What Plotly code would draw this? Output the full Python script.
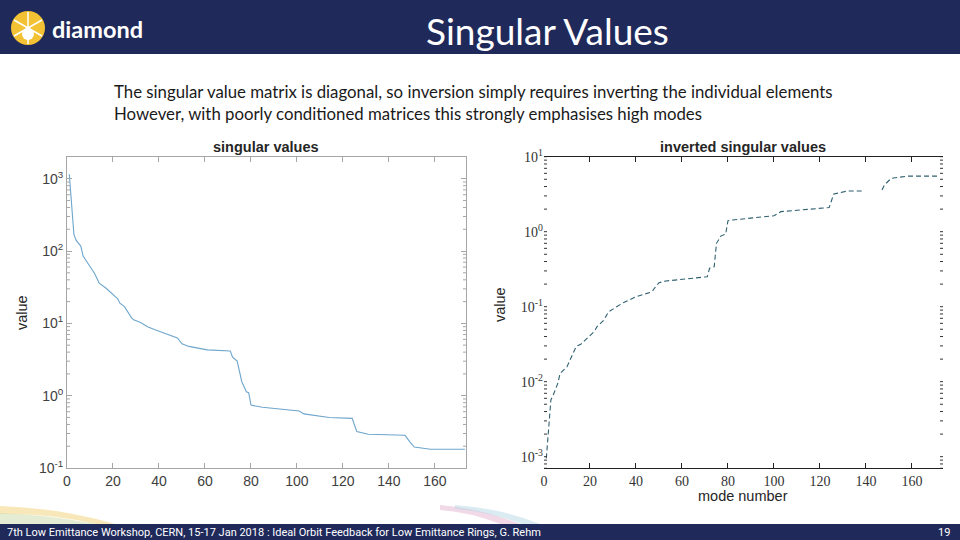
import plotly.graph_objects as go

# ---------------- data ----------------
sv_modes = [1, 2, 3, 4, 5, 6, 7, 9, 12, 14, 17, 21, 22, 23, 25, 28, 29, 32, 35, 38,
            45, 48, 50, 53, 61, 71, 72, 74, 76, 78, 79, 80, 85, 95, 101, 103, 114,
            124, 126, 131, 147, 149, 151, 158, 173]
sv_values = [1150, 380, 170, 140, 128, 117, 85, 68, 49, 36, 30.6, 23.4, 22, 19, 17,
             12, 11.2, 10.3, 9.0, 8.2, 6.9, 6.3, 5.2, 4.8, 4.3, 4.15, 3.4, 3.0, 1.56,
             1.13, 1.1, 0.74, 0.69, 0.635, 0.615, 0.56, 0.50, 0.485, 0.32, 0.293,
             0.283, 0.232, 0.195, 0.182, 0.182]

inv_modes = [1, 2, 3, 4, 6, 7, 10, 14, 16, 22, 23, 26, 28, 34, 40, 47, 48, 50, 53,
             71, 72, 74, 75, 77, 79, 80, 82, 92, 100, 103, 113, 123, 124, 126, 132,
             139, None, 147, 148, 151, 158, 172]
inv_values = [0.00095, 0.0025, 0.0057, 0.0066, 0.0095, 0.0129, 0.0158, 0.0295,
              0.0316, 0.047, 0.054, 0.066, 0.085, 0.111, 0.136, 0.158, 0.176, 0.209,
              0.22, 0.251, 0.325, 0.34, 0.70, 0.88, 0.93, 1.40, 1.43, 1.54, 1.63,
              1.85, 1.95, 2.09, 2.1, 3.18, 3.49, 3.49, None, 3.6, 4.2, 5.15, 5.5, 5.5]

x_ticks = [0, 20, 40, 60, 80, 100, 120, 140, 160]
left_yticks = [0.1, 1, 10, 100, 1000]
left_ytext = ["10<sup>-1</sup>", "10<sup>0</sup>", "10<sup>1</sup>", "10<sup>2</sup>", "10<sup>3</sup>"]
right_yticks = [0.001, 0.01, 0.1, 1, 10]
right_ytext = ["10<sup>-3</sup>", "10<sup>-2</sup>", "10<sup>-1</sup>", "10<sup>0</sup>", "10<sup>1</sup>"]

title_text = "Singular Values"
body_lines = ["The singular value matrix is diagonal, so inversion simply requires inverting the individual elements",
              "However, with poorly conditioned matrices this strongly emphasises high modes"]
footer_text = "7th Low Emittance Workshop, CERN, 15-17 Jan 2018 : Ideal Orbit Feedback for Low Emittance Rings, G. Rehm"
page_no = "19"

W, H = 960, 540
NAVY = "#1f2a5b"


def px(x):
    return x / W


def py(y):
    return 1 - y / H


fig = go.Figure()
fig.add_trace(go.Scatter(x=sv_modes, y=sv_values, mode="lines",
                         line=dict(color="#6ea6cc", width=1.1),
                         xaxis="x", yaxis="y", showlegend=False))
fig.add_trace(go.Scatter(x=inv_modes, y=inv_values, mode="lines",
                         line=dict(color="#2e6070", width=1.1, dash="5px,3px"),
                         connectgaps=False,
                         xaxis="x2", yaxis="y2", showlegend=False))

sans = "Liberation Sans"
serif = "Liberation Serif"
gray_line = "#a6a6a6"
tick_col = "#404040"

fig.update_layout(
    template="none",
    width=W, height=H, margin=dict(l=0, r=0, t=0, b=0, pad=0), autosize=False,
    paper_bgcolor="white", plot_bgcolor="white",
    xaxis=dict(domain=[px(67), px(466)], anchor="y", range=[0, 173.5],
               tickvals=x_ticks, ticks="inside", ticklen=5, tickcolor=gray_line,
               showline=True, linecolor=gray_line, linewidth=1, mirror="ticks",
               showgrid=False, zeroline=False, automargin=False,
               tickfont=dict(family=sans, size=14, color=tick_col)),
    yaxis=dict(domain=[py(468), py(157)], anchor="x", type="log", range=[-1, 3.3],
               tickvals=left_yticks, ticktext=left_ytext, ticks="inside", ticklen=5,
               tickcolor=gray_line, showline=True, linecolor=gray_line, linewidth=1,
               mirror="ticks", showgrid=False, zeroline=False, automargin=False,
               tickfont=dict(family=sans, size=14, color=tick_col)),
    xaxis2=dict(domain=[px(544), px(943)], anchor="y2", range=[0, 173.5],
                tickvals=x_ticks, ticks="inside", ticklen=5, tickcolor="#222222",
                showline=True, linecolor="#222222", linewidth=1.2, mirror="ticks",
                showgrid=False, zeroline=False, automargin=False,
                tickfont=dict(family=serif, size=14, color="#333333")),
    yaxis2=dict(domain=[py(468.3), py(156.7)], anchor="x2", type="log",
                range=[-3.155, 1], tickvals=right_yticks, ticktext=right_ytext,
                ticks="", showline=False, mirror=False, automargin=False,
                showgrid=False, zeroline=False,
                tickfont=dict(family=serif, size=14, color="#333333")),
)

# minor log ticks (both charts, both sides)
minor_left = [m * 10 ** e for e in range(-1, 4) for m in range(2, 10)]
for v in minor_left:
    if 0.1 < v <= 10 ** 3.3:
        for x0, x1 in [(67, 70), (463, 466)]:
            fig.add_shape(type="line", xref="paper", yref="y",
                          x0=px(x0), x1=px(x1), y0=v, y1=v,
                          line=dict(color=gray_line, width=1))
minor_right = [m * 10 ** e for e in range(-4, 2) for m in range(1, 10)]
lo, hi = 10 ** -3.155, 10
for v in minor_right:
    if lo < v <= hi:
        for x0, x1 in [(544, 547), (940, 943)]:
            fig.add_shape(type="line", xref="paper", yref="y2",
                          x0=px(x0), x1=px(x1), y0=v, y1=v,
                          line=dict(color="#333333", width=1))

shapes = []
shapes.append(dict(type="rect", xref="paper", yref="paper", x0=0, x1=1,
                   y0=py(54), y1=1, fillcolor=NAVY, line=dict(width=0), layer="below"))
shapes.append(dict(type="rect", xref="paper", yref="paper", x0=0, x1=1,
                   y0=0, y1=py(524), fillcolor=NAVY, line=dict(width=0), layer="below"))
shapes.append(dict(type="circle", xref="paper", yref="paper", x0=px(11), x1=px(45),
                   y0=py(45), y1=py(11), fillcolor="#f2c234", line=dict(width=0)))
for (a, b) in [((28, 12), (28, 44)), ((14, 20), (42, 36)), ((14, 36), (42, 20))]:
    shapes.append(dict(type="line", xref="paper", yref="paper",
                       x0=px(a[0]), y0=py(a[1]), x1=px(b[0]), y1=py(b[1]),
                       line=dict(color="white", width=1.5)))
shapes.append(dict(type="circle", xref="paper", yref="paper", x0=px(22), x1=px(34),
                   y0=py(40), y1=py(28), fillcolor="white", line=dict(width=0)))
shapes.append(dict(type="path", xref="paper", yref="paper",
                   path=f"M 0 {py(506)} Q {px(60)} {py(508)} {px(115)} {py(524)} L {px(95)} {py(524)} Q {px(50)} {py(513)} 0 {py(514)} Z",
                   fillcolor="#f3d98a", opacity=0.6, line=dict(width=0)))
shapes.append(dict(type="path", xref="paper", yref="paper",
                   path=f"M 0 {py(513)} Q {px(50)} {py(515)} {px(95)} {py(524)} L 0 {py(524)} Z",
                   fillcolor="#c9dba8", opacity=0.5, line=dict(width=0)))
shapes.append(dict(type="path", xref="paper", yref="paper",
                   path=f"M {px(440)} {py(505)} Q {px(480)} {py(508)} {px(520)} {py(524)} L {px(500)} {py(524)} Q {px(470)} {py(512)} {px(440)} {py(510)} Z",
                   fillcolor="#e6b3cf", opacity=0.5, line=dict(width=0)))
shapes.append(dict(type="path", xref="paper", yref="paper",
                   path=f"M {px(455)} {py(505)} Q {px(500)} {py(508)} {px(540)} {py(524)} L {px(522)} {py(524)} Q {px(490)} {py(512)} {px(455)} {py(509)} Z",
                   fillcolor="#b7d8e6", opacity=0.5, line=dict(width=0)))
for s in shapes:
    fig.add_shape(**s)

ann = []
ann.append(dict(x=px(547), y=py(30), text=title_text, showarrow=False,
                font=dict(family="Lato", size=37, color="white"),
                xanchor="center", yanchor="middle"))
ann.append(dict(x=px(50), y=py(29), text="<b>diamond</b>", showarrow=False,
                font=dict(family="Lato", size=23.5, color="white"),
                xanchor="left", yanchor="middle"))
ann.append(dict(x=px(112), y=py(91), text=body_lines[0], showarrow=False,
                font=dict(family="Lato", size=16.8, color="#1a1a1a"),
                xanchor="left", yanchor="middle"))
ann.append(dict(x=px(112), y=py(113), text=body_lines[1], showarrow=False,
                font=dict(family="Lato", size=16.8, color="#1a1a1a"),
                xanchor="left", yanchor="middle"))
ann.append(dict(x=px(266), y=py(147), text="<b>singular values</b>", showarrow=False,
                font=dict(family=sans, size=14.5, color="#262626"),
                xanchor="center", yanchor="middle"))
ann.append(dict(x=px(743), y=py(147), text="<b>inverted singular values</b>", showarrow=False,
                font=dict(family=sans, size=14.5, color="#262626"),
                xanchor="center", yanchor="middle"))
ann.append(dict(x=px(22), y=py(313), text="value", showarrow=False, textangle=-90,
                font=dict(family=sans, size=14.5, color="#262626"),
                xanchor="center", yanchor="middle"))
ann.append(dict(x=px(500), y=py(305), text="value", showarrow=False, textangle=-90,
                font=dict(family=sans, size=14.5, color="#262626"),
                xanchor="center", yanchor="middle"))
ann.append(dict(x=px(743), y=py(496), text="mode number", showarrow=False,
                font=dict(family=sans, size=14.5, color="#262626"),
                xanchor="center", yanchor="middle"))
ann.append(dict(x=px(5), y=py(532), text=footer_text, showarrow=False,
                font=dict(family="Roboto", size=11, color="white"),
                xanchor="left", yanchor="middle"))
ann.append(dict(x=px(952), y=py(532), text=page_no, showarrow=False,
                font=dict(family="Roboto", size=11, color="white"),
                xanchor="right", yanchor="middle"))
for a in ann:
    a.update(xref="paper", yref="paper")
    fig.add_annotation(**a)

fig.write_html("out.html", config={"displayModeBar": False},
               post_script="document.body.style.margin='0px';")
